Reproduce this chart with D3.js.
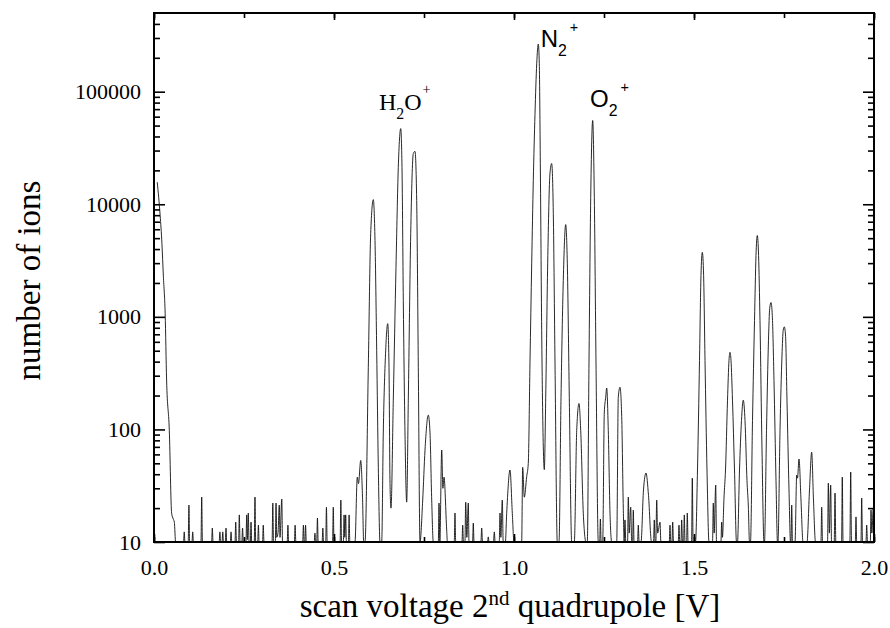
<!DOCTYPE html>
<html>
<head>
<meta charset="utf-8">
<script src="https://cdn.jsdelivr.net/npm/d3@7"></script>
<style>
  html, body { margin: 0; padding: 0; background: #fff; }
  svg { display: block; }
</style>
</head>
<body>
<svg id="chart" width="890" height="628"></svg>
<script>
// ---------------- DATA ----------------
const xTickValues = [0, 0.5, 1.0, 1.5, 2.0];
const xTickLabels = ["0.0", "0.5", "1.0", "1.5", "2.0"];
const xMinorTicks = [0, 0.25, 0.5, 0.75, 1.0, 1.25, 1.5, 1.75, 2.0];
const yTickValues = [10, 100, 1000, 10000, 100000];
const yTickLabels = ["10", "100", "1000", "10000", "100000"];
const yMinorTicks = [20,30,40,50,60,70,80,90,200,300,400,500,600,700,800,900,
  2000,3000,4000,5000,6000,7000,8000,9000,20000,30000,40000,50000,60000,70000,80000,90000,
  200000,300000,400000];
const xDomain = [0, 2.0];
const yDomain = [10, 500000];
const xTitle = ["scan voltage 2", "nd", " quadrupole [V]"];
const yTitle = "number of ions";

// spectrum segments: [scan voltage (V), number of ions]
const decayStart = [
  [0.009,15700],[0.017,8000],[0.022,4500],[0.026,2300],[0.031,1070],[0.035,275],
  [0.0425,98],[0.049,18],[0.0535,16],[0.0565,15],[0.060,10]
];
const noiseLow = [
  [0.082,10],[0.084,12.3],[0.086,10],[0.095,10],[0.097,21.3],[0.099,10],
  [0.1055,10],[0.1075,12.3],[0.1095,10],[0.1305,10],[0.1325,25.1],[0.1345,10],
  [0.160,10],[0.162,13.3],[0.164,10],[0.181,10],[0.183,12.3],[0.185,10],
  [0.189,10],[0.191,12.3],[0.193,10],[0.198,10],[0.200,13.3],[0.202,10],
  [0.212,10],[0.214,12.3],[0.216,10],[0.225,10],[0.227,15],[0.229,10],
  [0.235,10],[0.237,17.4],[0.239,10],[0.244,10],[0.246,13.3],[0.248,10],
  [0.2555,10],[0.2575,17.4],[0.2595,10.5],[0.262,18.1],[0.264,10],
  [0.2675,10],[0.2695,15],[0.2715,10],[0.2785,10],[0.2805,25.1],[0.2825,10],
  [0.288,10],[0.290,14.1],[0.292,10],[0.3015,10],[0.3035,14.1],[0.3055,10],
  [0.328,10],[0.330,22.2],[0.332,10],[0.337,10],[0.339,22.2],[0.341,11],
  [0.3445,12],[0.348,21.3],[0.350,11],[0.355,24.1],[0.357,10],
  [0.370,10],[0.372,14.1],[0.374,10],[0.390,10],[0.392,14.1],[0.394,10],
  [0.413,10],[0.415,14.1],[0.417,10],[0.419,10],[0.421,14.1],[0.423,10],
  [0.445,10],[0.447,12],[0.449,10],[0.452,10],[0.454,16.3],[0.456,10],
  [0.467,10],[0.469,13.3],[0.471,10],[0.477,10],[0.479,20.4],[0.481,10],
  [0.496,10],[0.498,20.4],[0.500,10],[0.517,10],[0.519,23.6],[0.521,10],
  [0.526,10],[0.528,17.4],[0.530,11],[0.5325,17.4],[0.5345,10],
  [0.540,10],[0.542,17.4],[0.544,10]
];
const waterGroup = [
  [0.5583,10],[0.5647,37.7],[0.568,33],[0.5742,53],[0.5792,25],[0.5825,10],
  [0.5861,10],[0.5953,357],[0.6019,5500],[0.6092,11000],[0.6139,4770],[0.6186,505],[0.6231,46],[0.6278,10],
  [0.6325,10],[0.6369,93],[0.6436,505],[0.6492,870],[0.6528,357],[0.6556,33],[0.6583,20],
  [0.6647,182],[0.6722,2750],[0.6786,21200],[0.6853,47000],[0.6889,21200],[0.6925,1400],[0.6972,93],[0.7019,22.6],
  [0.7064,182],[0.7131,5500],[0.7203,28200],[0.725,29500],[0.7297,10800],[0.7342,357],[0.7389,10],
  [0.7464,23.6],[0.7528,65.5],[0.7619,134],[0.7667,93],[0.7714,23.6],[0.7758,10]
];
const noiseMid = [
  [0.7898,10],[0.7917,22.2],[0.794,10],[0.7992,65.5],[0.8025,30],[0.8056,37.7],[0.813,12.8],[0.815,10],
  [0.834,10],[0.8361,18.1],[0.838,10],[0.8555,10],[0.8575,14.1],[0.8595,10],
  [0.8638,10],[0.8658,22.6],[0.869,11],[0.8731,22.2],[0.875,10],
  [0.885,10],[0.8869,14.7],[0.889,10],[0.908,10],[0.9103,13.3],[0.9125,10],
  [0.9265,10],[0.9286,11.1],[0.9305,10],[0.943,10],[0.9453,12.3],[0.9475,10],
  [0.959,10],[0.9611,18.1],[0.9635,11],[0.9675,23.6],[0.970,10],[0.976,10],
  [0.9797,18],[0.9889,43.6],[0.9953,18],[1.0,10]
];
const nitrogenGroup = [
  [1.0213,10],[1.0241,46],[1.0286,25],[1.0352,38],[1.0397,50],[1.0444,390],[1.0492,3000],
  [1.0536,16200],[1.0583,63000],[1.0631,177000],[1.0675,265000],[1.0703,177000],[1.0731,23000],
  [1.0769,760],[1.0814,70],[1.0842,44],
  [1.0881,193],[1.0936,3000],[1.1,19000],[1.1047,23000],[1.1092,8300],[1.1139,390],[1.1203,10],
  [1.125,10],[1.1306,193],[1.1369,2100],[1.1436,6600],[1.1481,3000],[1.1536,193],[1.1603,10],
  [1.1675,10],[1.1742,98],[1.1806,170],[1.1853,98],[1.1925,18],[1.2,10],
  [1.2036,10],[1.2083,390],[1.2131,11500],[1.2186,55500],[1.2231,11500],[1.2278,390],[1.2342,10],
  [1.238,10],[1.240,16],[1.242,10],
  [1.2464,10],[1.2508,140],[1.2547,193],[1.2575,233],[1.2619,98],[1.2667,18],[1.2714,10],
  [1.2853,10],[1.2897,193],[1.2944,237],[1.2992,130],[1.3036,20],[1.306,10]
];
const noiseHigh = [
  [1.3083,15.7],[1.3105,10],[1.3155,10],[1.3175,25.1],[1.320,12],[1.3242,20.4],[1.327,10],
  [1.3295,10],[1.3314,19.2],[1.3335,10],[1.3433,10],[1.3453,14.1],[1.3475,10],
  [1.3528,10],[1.3597,29],[1.3667,41],[1.3736,26],[1.3819,10],
  [1.3877,10],[1.3897,15.7],[1.392,10],[1.394,10],[1.3964,23.6],[1.399,12],[1.4056,15],[1.408,10],
  [1.4313,10],[1.4333,14.1],[1.4355,10],[1.4388,10],[1.4408,15],[1.443,10],
  [1.4563,10],[1.4583,14.1],[1.4605,10],[1.4638,10],[1.4658,15.7],[1.468,10],
  [1.471,10],[1.4731,17.4],[1.475,10],[1.4794,10],[1.4814,18.1],[1.4835,10],
  [1.4933,10],[1.4953,36.9],[1.4975,10]
];
const highGroup = [
  [1.5042,10],[1.5097,43.6],[1.5153,410],[1.5194,2330],[1.5231,3740],[1.5267,2330],[1.5306,410],[1.5361,43.6],[1.5417,10],
  [1.5515,10],[1.5536,22.2],[1.556,12],[1.5603,32],[1.5625,10],
  [1.5748,10],[1.5769,15],[1.579,11],[1.5833,24.6],[1.5875,43.6],[1.5931,182],[1.5972,410],[1.6,484],[1.6028,410],[1.6069,182],[1.6125,43.6],[1.6181,10],
  [1.6208,10],[1.6264,43.6],[1.6319,120],[1.6369,182],[1.6417,120],[1.6472,35],[1.6508,21.3],[1.6542,10],
  [1.6569,10],[1.6625,120],[1.6681,930],[1.6722,3500],[1.6758,5280],[1.6794,3500],[1.6833,930],[1.6889,65.5],[1.6944,10],
  [1.6958,10],[1.7014,98],[1.7069,620],[1.7103,1190],[1.7139,1340],[1.7175,1030],[1.7222,272],[1.7278,35],[1.7319,10],
  [1.7333,10],[1.7389,98],[1.7444,450],[1.7478,760],[1.7508,815],[1.7542,690],[1.7583,182],[1.7639,29],[1.7681,10],
  [1.7694,10],[1.7714,21.3],[1.7735,10],
  [1.7806,10],[1.7853,39.3],[1.7875,36.9],[1.7917,54.5],[1.7972,23.6],[1.8028,10],
  [1.8139,10],[1.8208,29],[1.8269,62.8],[1.8319,23.6],[1.8375,10]
];
const noiseEnd = [
  [1.8527,10],[1.8547,20.4],[1.857,10],[1.871,10],[1.8731,33.3],[1.876,12],[1.8797,32],[1.882,10],
  [1.8895,10],[1.8917,27.2],[1.894,10],[1.91,10],[1.9119,37.7],[1.914,10],
  [1.933,10],[1.9353,41.8],[1.9375,10],[1.948,10],[1.95,16.7],[1.952,10],
  [1.9638,10],[1.9658,24.6],[1.968,10],[1.9777,10],[1.9797,14.1],[1.982,10],
  [1.9897,10],[1.9917,19.2],[1.994,12],[1.998,20],[2.0,14]
];

// ---------------- LAYOUT ----------------
const svg = d3.select("#chart");
const margin = { left: 154, right: 16, top: 13, bottom: 86 };
const W = 890, H = 628;
const iw = W - margin.left - margin.right; // 720
const ih = H - margin.top - margin.bottom; // 529

const x = d3.scaleLinear().domain(xDomain).range([0, iw]);
const y = d3.scaleLog().domain(yDomain).range([ih, 0]);

const g = svg.append("g").attr("transform", `translate(${margin.left},${margin.top})`);

g.append("defs").append("clipPath").attr("id", "plotclip")
  .append("rect").attr("x", 0).attr("y", 0).attr("width", iw).attr("height", ih);

const spectrum = [].concat(decayStart, noiseLow, waterGroup, noiseMid, nitrogenGroup, noiseHigh, highGroup, noiseEnd);

const line = d3.line()
  .x(d => x(d[0]))
  .y(d => y(Math.max(d[1], 9)))
  .curve(d3.curveMonotoneX);

g.append("path")
  .datum(spectrum)
  .attr("clip-path", "url(#plotclip)")
  .attr("fill", "none")
  .attr("stroke", "#111")
  .attr("stroke-width", 0.9)
  .attr("stroke-linejoin", "round")
  .attr("d", line);

// ---------------- AXES ----------------
const serif = "'Liberation Serif', 'Times New Roman', serif";
const sans = "'Liberation Sans', Arial, sans-serif";

function styleAxis(sel) {
  sel.select(".domain").remove();
  sel.selectAll(".tick line").attr("stroke", "#000").attr("stroke-width", 1.6);
  sel.selectAll(".tick text").attr("font-family", serif).attr("font-size", 22).attr("fill", "#000");
}

// left
g.append("g").call(d3.axisLeft(y).tickValues(yTickValues).tickSize(-11).tickPadding(13)
  .tickFormat((d, i) => yTickLabels[i])).call(styleAxis);
g.append("g").call(d3.axisLeft(y).tickValues(yMinorTicks).tickSize(-6).tickFormat("")).call(styleAxis);
// right
g.append("g").attr("transform", `translate(${iw},0)`)
  .call(d3.axisRight(y).tickValues(yTickValues).tickSize(-11).tickFormat("")).call(styleAxis);
g.append("g").attr("transform", `translate(${iw},0)`)
  .call(d3.axisRight(y).tickValues(yMinorTicks).tickSize(-6).tickFormat("")).call(styleAxis);
// bottom
g.append("g").attr("transform", `translate(0,${ih})`)
  .call(d3.axisBottom(x).tickValues(xTickValues).tickSize(-8).tickPadding(17)
    .tickFormat((d, i) => xTickLabels[i])).call(styleAxis);
g.append("g").attr("transform", `translate(0,${ih})`)
  .call(d3.axisBottom(x).tickValues(xMinorTicks).tickSize(-5).tickFormat("")).call(styleAxis);
// top
g.append("g").call(d3.axisTop(x).tickValues(xTickValues).tickSize(-7).tickFormat("")).call(styleAxis);
g.append("g").call(d3.axisTop(x).tickValues(xMinorTicks).tickSize(-5).tickFormat("")).call(styleAxis);

// frame
g.append("rect").attr("x", 0).attr("y", 0).attr("width", iw).attr("height", ih)
  .attr("fill", "none").attr("stroke", "#000").attr("stroke-width", 2);

// y-axis label
svg.append("text")
  .attr("transform", `translate(40,${margin.top + ih / 2 + 3}) rotate(-90)`)
  .attr("text-anchor", "middle")
  .attr("font-family", serif).attr("font-size", 33).attr("fill", "#000")
  .text(yTitle);

// x-axis label
const xt = svg.append("text")
  .attr("x", margin.left + iw / 2 - 4).attr("y", 617)
  .attr("text-anchor", "middle")
  .attr("font-family", serif).attr("font-size", 33).attr("fill", "#000");
xt.append("tspan").text(xTitle[0]);
xt.append("tspan").attr("dy", -12).attr("font-size", 21).text(xTitle[1]);
xt.append("tspan").attr("dy", 12).text(xTitle[2]);

// ---------------- PEAK LABELS ----------------
function chemLabel(px, py, base, sub, sup, family, size, supDy, supDx) {
  const t = svg.append("text").attr("x", px).attr("y", py)
    .attr("font-family", family).attr("font-size", size).attr("fill", "#000");
  t.append("tspan").text(base[0]);
  t.append("tspan").attr("dy", 9).attr("font-size", size * 0.66).text(sub);
  if (base[1]) t.append("tspan").attr("dy", -9).text(base[1]);
  t.append("tspan").attr("font-size", size * 0.6).attr("dy", supDy).attr("dx", supDx).text(sup);
  return t;
}
chemLabel(margin.left + x(0.625), margin.top + y(69000), ["H", "O"], "2", "+", serif, 24, -16, 1);
chemLabel(margin.left + x(1.0741), margin.top + y(247000), ["N"], "2", "+", sans, 24, -24, 3);
chemLabel(margin.left + x(1.2111), margin.top + y(73600), ["O"], "2", "+", sans, 24, -24, 3);
</script>
</body>
</html>
